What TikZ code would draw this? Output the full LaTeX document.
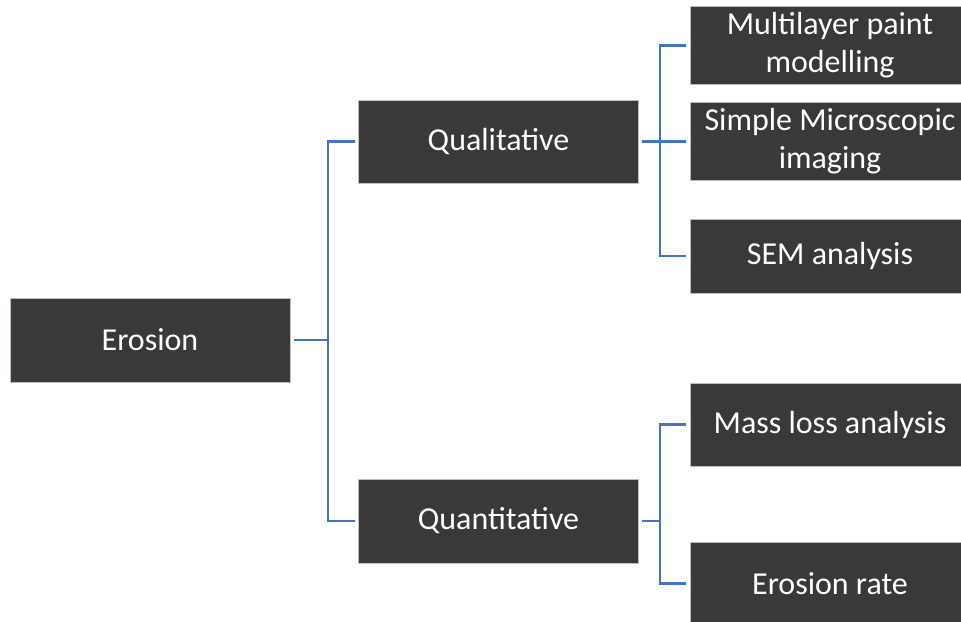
\documentclass[tikz,border=0pt]{standalone}
\usepackage{fontspec}
\setmainfont{Carlito}

\definecolor{boxgray}{HTML}{3B3838}
\definecolor{edgegray}{HTML}{BFBFBF}
\definecolor{linkblue}{HTML}{4472C4}

\begin{document}
\begin{tikzpicture}[
	box/.style={rectangle, draw=edgegray, line width=0.4pt, fill=boxgray, text=white, align=center,
		font=\fontsize{18.2}{21.6}\selectfont, minimum width=5.6cm, outer sep=2pt},
	link/.style={draw=linkblue, line width=1.5pt}]

	\clip (0,0) rectangle (19.22,-12.44);

	\node [box, minimum height=1.68cm] (ero) at (3.0,-6.8) {Erosion};

	\node [box, minimum height=1.66cm] (qual) at (9.97,-2.83) {Qualitative};
	\node [box, minimum height=1.68cm] (quan) at (9.97,-10.42) {Quantitative};

	\node [box, minimum height=1.46cm] (mlp) at (16.6,-0.91) {Multilayer paint\\modelling};
	\node [box, minimum height=1.50cm] (smi) at (16.6,-2.83) {Simple Microscopic\\imaging};
	\node [box, minimum height=1.48cm] (sem) at (16.6,-5.12) {SEM analysis};

	\node [box, minimum height=1.66cm] (mass) at (16.6,-8.49) {Mass loss analysis};
	\node [box, minimum height=1.66cm] (rate) at (16.6,-11.67) {Erosion rate};

	% bracket joints
	\coordinate (j1) at (6.56,-6.8);
	\coordinate (j2) at (13.2,-2.83);
	\coordinate (j3) at (13.2,-10.42);

	\draw [link] (ero) -- (j1);
	\draw [link] (j1) |- (qual);
	\draw [link] (j1) |- (quan);

	\draw [link] (qual) -- (j2);
	\draw [link] (j2) |- (mlp);
	\draw [link] (j2) |- (smi);
	\draw [link] (j2) |- (sem);

	\draw [link] (quan) -- (j3);
	\draw [link] (j3) |- (mass);
	\draw [link] (j3) |- (rate);

\end{tikzpicture}
\end{document}
